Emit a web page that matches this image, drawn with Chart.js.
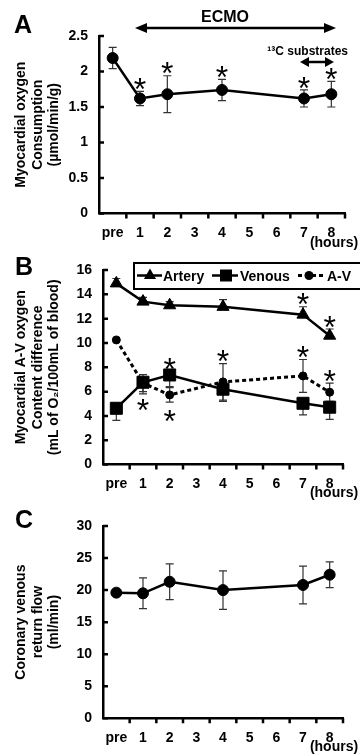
<!DOCTYPE html>
<html><head><meta charset="utf-8">
<script src="https://cdn.jsdelivr.net/npm/chart.js@4"></script>
<style>
html,body{margin:0;padding:0;background:#fff;width:360px;height:756px;overflow:hidden}
canvas{position:absolute;left:0}
</style></head><body>
<canvas id="cA" width="360" height="250" style="top:0px"></canvas>
<canvas id="cB" width="360" height="250" style="top:250px"></canvas>
<canvas id="cC" width="360" height="256" style="top:500px"></canvas>
<script>
// ---------- data ----------
const categories = ['pre', '1', '2', '3', '4', '5', '6', '7', '8'];

// Panel A: myocardial oxygen consumption
const consumption    = [2.19, 1.62, 1.68, null, 1.74, null, null, 1.62, 1.68];
const consumptionErr = [0.15, 0.10, 0.26, null, 0.15, null, null, 0.12, 0.18];
const consumptionSig = [0, 1, 1, 0, 1, 0, 0, 1, 1];
const ticksA = [0, 0.5, 1, 1.5, 2, 2.5];

// Panel B: O2 content
const artery    = [14.9, 13.4, 13.1, null, 12.97, null, null, 12.33, 10.6];
const arteryErr = [0.4, 0.35, 0.3, null, 0.6, null, null, 0.65, 0.55];
const arterySig = [0, 0, 0, 0, 0, 0, 0, 1, 1];
const venous    = [4.63, 6.77, 7.37, null, 6.2, null, null, 5.04, 4.72];
const venousErr = [1.0, 0.95, 0.96, null, 1.0, null, null, 0.95, 1.0];
const venousSig = [0, 0, 1, 0, 0, 0, 0, 0, 0];
const avDiff    = [10.25, 6.7, 5.73, null, 6.8, null, null, 7.29, 5.95];
const avDiffErr = [0, 0.7, 0.6, null, 1.5, null, null, 1.35, 0.75];
const avDiffSig = [0, -1, -1, 0, 1, 0, 0, 1, 1];
const ticksB = [0, 2, 4, 6, 8, 10, 12, 14, 16];

// Panel C: coronary venous return flow
const flow    = [19.6, 19.5, 21.3, null, 20.0, null, null, 20.8, 22.4];
const flowErr = [0.3, 2.4, 2.8, null, 3.0, null, null, 2.95, 2.0];
const ticksC = [0, 5, 10, 15, 20, 25, 30];

// ---------- styling helpers ----------
const FONT = "'Liberation Sans', Arial, Helvetica, sans-serif";
Chart.defaults.font.family = FONT;
Chart.defaults.font.size = 14;
Chart.defaults.font.weight = 'bold';
Chart.defaults.color = '#000';

function drawStar(ctx, x, yc) {
  ctx.save();
  ctx.font = 'normal 32px ' + FONT;
  ctx.fillStyle = '#000';
  ctx.textAlign = 'center';
  ctx.textBaseline = 'alphabetic';
  ctx.fillText('*', x, yc + 0.58 * 32);
  ctx.restore();
}

const errorBarPlugin = {
  id: 'errbars',
  beforeDatasetsDraw(chart) {
    const ctx = chart.ctx, ys = chart.scales.y;
    chart.data.datasets.forEach((ds, i) => {
      if (!ds.errors) return;
      const meta = chart.getDatasetMeta(i);
      ctx.save();
      ctx.strokeStyle = '#333';
      ctx.lineWidth = 1.2;
      ctx.beginPath();
      meta.data.forEach((pt, j) => {
        const v = ds.data[j], e = ds.errors[j];
        if (v == null || !e) return;
        const x = pt.x, yc = pt.y;
        const yt = ys.getPixelForValue(v + e), yb = ys.getPixelForValue(v - e);
        if (ds.errDir !== 'down') { ctx.moveTo(x, yc); ctx.lineTo(x, yt); ctx.moveTo(x - 4, yt); ctx.lineTo(x + 4, yt); }
        if (ds.errDir !== 'up') { ctx.moveTo(x, yc); ctx.lineTo(x, yb); ctx.moveTo(x - 4, yb); ctx.lineTo(x + 4, yb); }
      });
      ctx.stroke();
      ctx.restore();
    });
  },
  afterDatasetsDraw(chart) {
    const ys = chart.scales.y;
    chart.data.datasets.forEach((ds, i) => {
      if (!ds.sig) return;
      const meta = chart.getDatasetMeta(i);
      meta.data.forEach((pt, j) => {
        const s = ds.sig[j], v = ds.data[j], e = ds.errors ? (ds.errors[j] || 0) : 0;
        if (!s || v == null) return;
        if (s > 0) {
          let ref = pt.y - 4;
          if (ds.errDir !== 'down' && e) ref = Math.min(ref, ys.getPixelForValue(v + e));
          drawStar(chart.ctx, pt.x, ref - 10);
        } else {
          let ref = pt.y + 4;
          if (ds.errDir !== 'up' && e) ref = Math.max(ref, ys.getPixelForValue(v - e));
          drawStar(chart.ctx, pt.x, ref + 11);
        }
      });
    });
  }
};

const axisTicksPlugin = {
  id: 'axisTicks',
  afterDraw(chart) {
    const ctx = chart.ctx, a = chart.chartArea, xs = chart.scales.x, ys = chart.scales.y;
    const n = xs.ticks.length, w = (a.right - a.left) / n;
    ctx.save();
    ctx.strokeStyle = '#000';
    ctx.lineWidth = 2.5;
    ctx.beginPath();
    for (let i = 1; i <= n; i++) {
      const px = xs.getPixelForTick(i - 1) + w / 2;
      ctx.moveTo(px, a.bottom); ctx.lineTo(px, a.bottom + 5);
    }
    ys.ticks.forEach(t => {
      const py = ys.getPixelForValue(t.value);
      ctx.moveTo(a.left, py); ctx.lineTo(a.left + 5, py);
    });
    ctx.stroke();
    ctx.restore();
  }
};

function text(ctx, str, x, y, size, align, weight) {
  ctx.save();
  ctx.font = (weight || 'bold') + ' ' + size + 'px ' + FONT;
  ctx.fillStyle = '#000';
  ctx.textAlign = align || 'left';
  ctx.textBaseline = 'alphabetic';
  ctx.fillText(str, x, y);
  ctx.restore();
}

function arrow(ctx, x1, x2, y, head, half) {
  ctx.save();
  ctx.strokeStyle = '#000'; ctx.fillStyle = '#000'; ctx.lineWidth = 2.5;
  ctx.beginPath(); ctx.moveTo(x1 + head - 2, y); ctx.lineTo(x2 - head + 2, y); ctx.stroke();
  ctx.beginPath(); ctx.moveTo(x1, y); ctx.lineTo(x1 + head, y - half); ctx.lineTo(x1 + head, y + half); ctx.closePath(); ctx.fill();
  ctx.beginPath(); ctx.moveTo(x2, y); ctx.lineTo(x2 - head, y - half); ctx.lineTo(x2 - head, y + half); ctx.closePath(); ctx.fill();
  ctx.restore();
}

function makeChart(id, cfg) {
  const canvas = document.getElementById(id);
  const H = canvas.height;
  const a = cfg.area;
  return new Chart(canvas, {
    type: 'line',
    data: { labels: categories, datasets: cfg.datasets },
    options: {
      responsive: false, animation: false, devicePixelRatio: 1,
      layout: { padding: { left: 0, top: a.t, right: 360 - a.r, bottom: 0 } },
      plugins: { legend: { display: false }, tooltip: { enabled: false } },
      scales: {
        x: {
          type: 'category', offset: true,
          grid: { display: false, drawTicks: false },
          border: { display: true, color: '#000', width: 2.5 },
          ticks: { color: '#000', font: { size: 14, weight: 'bold' }, padding: 11, maxRotation: 0, autoSkip: false },
          afterFit(s) { s.height = H - a.b; }
        },
        y: {
          min: cfg.ticks[0], max: cfg.ticks[cfg.ticks.length - 1],
          grid: { display: false, drawTicks: false },
          border: { display: true, color: '#000', width: 2.5 },
          ticks: { color: '#000', font: { size: 14, weight: 'bold' }, padding: 11,
                   callback: (v) => String(v) },
          afterBuildTicks(s) { s.ticks = cfg.ticks.map(v => ({ value: v })); },
          title: { display: true, text: cfg.title, color: '#000',
                   font: { size: 14, weight: 'bold', lineHeight: '16.5px' }, padding: { top: 13, bottom: 0 } },
          afterFit(s) { s.width = a.l; }
        }
      }
    },
    plugins: [errorBarPlugin, axisTicksPlugin, { id: 'annot' + id, afterDraw(chart) { cfg.annot(chart.ctx, chart); } }]
  });
}

function lineDs(data, errs, sig, style, radius, dash, dir) {
  return {
    data: data, errors: errs, sig: sig, errDir: dir || 'both',
    borderColor: '#000', backgroundColor: '#000', borderWidth: dash ? 3 : 2.5,
    borderDash: dash || [], spanGaps: true, tension: 0,
    pointStyle: style, pointRadius: radius, pointBorderWidth: 1,
    pointBackgroundColor: '#000', pointBorderColor: '#000'
  };
}

// ---------- Panel A ----------
makeChart('cA', {
  area: { l: 99, t: 36, r: 345, b: 213.5 },
  ticks: ticksA,
  title: ['Myocardial oxygen', 'Consumption', '(\u00b5mol/min/g)'],
  datasets: [lineDs(consumption, consumptionErr, consumptionSig, 'circle', 5.5)],
  annot(ctx) {
    text(ctx, 'A', 14, 33, 25);
    text(ctx, 'ECMO', 225, 22, 16, 'center');
    arrow(ctx, 135, 336, 28, 12, 5);
    text(ctx, '\u00b9\u00b3C substrates', 348, 55, 12, 'right');
    arrow(ctx, 300, 334, 62, 9, 5);
    text(ctx, '(hours)', 334, 247, 14, 'center');
  }
});

// ---------- Panel B ----------
makeChart('cB', {
  area: { l: 103, t: 20, r: 343, b: 214.6 },
  ticks: ticksB,
  title: ['Myocardial A-V oxygen', 'Content difference', '(mL of O\u2082/100mL of blood)'],
  datasets: [
    lineDs(artery, arteryErr, arterySig, 'triangle', 7, null, 'up'),
    lineDs(venous, venousErr, venousSig, 'rect', 8.5, null, 'down'),
    lineDs(avDiff, avDiffErr, avDiffSig, 'circle', 4, [4, 3], 'both')
  ],
  annot(ctx) {
    text(ctx, 'B', 15, 25, 25);
    text(ctx, '(hours)', 334, 247, 14, 'center');
    // legend box
    ctx.save();
    ctx.fillStyle = '#fff';
    ctx.fillRect(133, 13, 228, 26);
    ctx.strokeStyle = '#000'; ctx.lineWidth = 2;
    ctx.strokeRect(134, 13, 228, 26);
    ctx.lineWidth = 2.5;
    const ly = 25.5;
    ctx.beginPath(); ctx.moveTo(137, ly); ctx.lineTo(162, ly); ctx.stroke();
    ctx.beginPath(); ctx.moveTo(212, ly); ctx.lineTo(238, ly); ctx.stroke();
    ctx.setLineDash([4, 3]); ctx.lineWidth = 3;
    ctx.beginPath(); ctx.moveTo(298, ly); ctx.lineTo(324, ly); ctx.stroke();
    ctx.setLineDash([]);
    ctx.fillStyle = '#000';
    const r = 7;
    ctx.beginPath();
    ctx.moveTo(150, ly - r); ctx.lineTo(150 + r * 0.866, ly + r / 2); ctx.lineTo(150 - r * 0.866, ly + r / 2); ctx.closePath(); ctx.fill();
    ctx.fillRect(226 - 6, ly - 6, 12, 12);
    ctx.beginPath(); ctx.arc(309, ly, 4.5, 0, Math.PI * 2); ctx.fill();
    ctx.restore();
    text(ctx, 'Artery', 163, 30.5, 14);
    text(ctx, 'Venous', 240, 30.5, 14);
    text(ctx, 'A-V', 327, 30.5, 14);
  }
});

// ---------- Panel C ----------
makeChart('cC', {
  area: { l: 103, t: 26, r: 343, b: 218.3 },
  ticks: ticksC,
  title: ['Coronary venous', 'return flow', '(ml/min)'],
  datasets: [lineDs(flow, flowErr, null, 'circle', 5.5)],
  annot(ctx) {
    text(ctx, 'C', 15, 28, 25);
    text(ctx, '(hours)', 334, 251, 14, 'center');
  }
});
</script>
</body></html>
